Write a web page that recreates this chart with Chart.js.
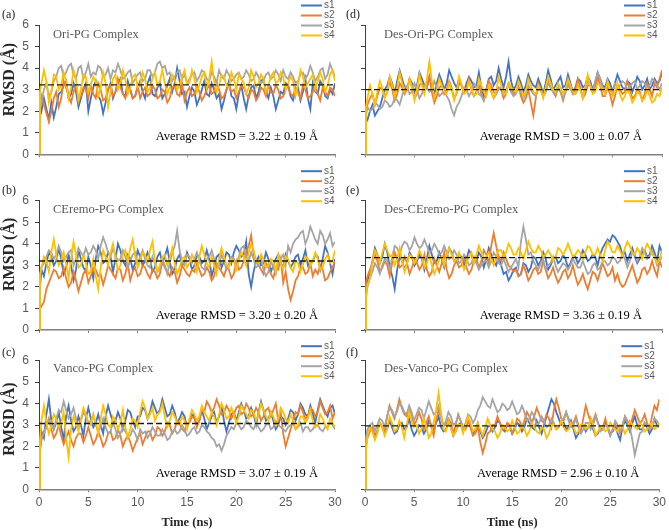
<!DOCTYPE html>
<html>
<head>
<meta charset="utf-8">
<script src="https://cdn.jsdelivr.net/npm/chart.js@4.4.1/dist/chart.umd.min.js"></script>
<style>
  body { margin: 0; background: #fff; width: 669px; height: 530px; position: relative; overflow: hidden; }
  canvas { position: absolute; }
</style>
</head>
<body>
<script>
// time axis (ns)
const times = [0, 0.1,
  0.25, 0.5, 0.75, 1, 1.25, 1.5, 1.75, 2, 2.25, 2.5, 2.75, 3, 3.25, 3.5, 3.75, 4, 4.25, 4.5, 4.75, 5,
  5.25, 5.5, 5.75, 6, 6.25, 6.5, 6.75, 7, 7.25, 7.5, 7.75, 8, 8.25, 8.5, 8.75, 9, 9.25, 9.5, 9.75, 10,
  10.25, 10.5, 10.75, 11, 11.25, 11.5, 11.75, 12, 12.25, 12.5, 12.75, 13, 13.25, 13.5, 13.75, 14, 14.25, 14.5, 14.75, 15,
  15.25, 15.5, 15.75, 16, 16.25, 16.5, 16.75, 17, 17.25, 17.5, 17.75, 18, 18.25, 18.5, 18.75, 19, 19.25, 19.5, 19.75, 20,
  20.25, 20.5, 20.75, 21, 21.25, 21.5, 21.75, 22, 22.25, 22.5, 22.75, 23, 23.25, 23.5, 23.75, 24, 24.25, 24.5, 24.75, 25,
  25.25, 25.5, 25.75, 26, 26.25, 26.5, 26.75, 27, 27.25, 27.5, 27.75, 28, 28.25, 28.5, 28.75, 29, 29.25, 29.5, 29.75, 30];

const seriesNames = ['s1', 's2', 's3', 's4'];
const xTicks = [0, 5, 10, 15, 20, 25, 30];
const yTicks = [0, 1, 2, 3, 4, 5, 6];

const panelLabels = ['(a)', '(b)', '(c)', '(d)', '(e)', '(f)'];
const panelTitles = ['Ori-PG Complex', 'CEremo-PG Complex', 'Vanco-PG Complex',
  'Des-Ori-PG Complex', 'Des-CEremo-PG Complex', 'Des-Vanco-PG Complex'];
const avgValues = [3.22, 3.20, 3.07, 3.00, 3.36, 2.96];
const avgTexts = ['Average RMSD = 3.22 ± 0.19 Å', 'Average RMSD = 3.20 ± 0.20 Å',
  'Average RMSD = 3.07 ± 0.19 Å', 'Average RMSD = 3.00 ± 0.07 Å',
  'Average RMSD = 3.36 ± 0.19 Å', 'Average RMSD = 2.96 ± 0.10 Å'];

// (a) Ori-PG
const oriS1 = [0, 2.3,
  2.0, 2.6, 2.1, 1.6, 2.4, 1.7, 2.2, 2.8, 2.9, 3.2, 3.4, 2.6, 2.8, 3.3, 2.9, 2.2, 2.6, 3.0, 3.3, 2.0,
  2.6, 3.1, 3.4, 2.7, 2.5, 1.9, 2.4, 3.0, 3.3, 2.6, 2.9, 3.3, 3.5, 2.8, 2.7, 3.4, 3.0, 2.6, 2.7, 3.1,
  3.4, 2.9, 2.6, 3.3, 3.6, 2.8, 2.7, 3.1, 3.3, 2.6, 2.8, 3.2, 3.5, 2.9, 3.3, 4.0, 3.4, 2.8, 2.9, 2.2,
  2.7, 3.1, 2.9, 2.3, 2.6, 3.0, 3.4, 2.8, 2.7, 3.3, 3.0, 2.6, 2.8, 2.1, 2.5, 3.0, 3.4, 2.7, 2.6, 2.1,
  2.8, 3.2, 2.6, 2.1, 2.7, 3.1, 3.2, 2.6, 2.9, 3.4, 3.5, 2.9, 2.6, 3.1, 2.7, 2.1, 2.5, 2.9, 2.8, 3.3,
  3.2, 2.7, 2.5, 3.0, 3.1, 2.5, 2.9, 3.5, 2.6, 2.1, 3.3, 2.9, 2.8, 3.4, 3.2, 2.7, 2.6, 3.0, 2.8, 3.3];
const oriS2 = [0, 2.0,
  2.7, 2.3, 1.9, 1.5, 2.0, 2.6, 2.9, 2.2, 2.6, 3.4, 3.1, 2.7, 2.4, 2.9, 3.2, 2.5, 2.7, 3.1, 3.0, 2.6,
  3.2, 2.8, 2.6, 3.3, 3.0, 2.5, 2.6, 3.0, 3.2, 2.7, 2.9, 3.5, 3.1, 2.8, 2.6, 3.1, 3.0, 2.6, 2.7, 3.2,
  2.6, 2.9, 3.1, 2.7, 2.8, 3.2, 3.0, 2.6, 2.7, 3.0, 2.9, 2.4, 2.6, 3.1, 3.2, 2.8, 2.7, 3.3, 2.5, 2.9,
  3.1, 2.7, 2.8, 3.2, 2.9, 2.5, 2.7, 3.0, 3.2, 2.8, 2.9, 3.3, 3.0, 2.6, 2.7, 3.0, 3.2, 2.9, 3.0, 2.6,
  2.9, 3.2, 3.1, 2.8, 2.6, 3.0, 2.9, 2.5, 2.7, 3.1, 3.0, 2.7, 3.2, 2.9, 2.8, 3.2, 3.0, 2.6, 2.7, 3.0,
  3.2, 2.8, 2.7, 3.1, 2.9, 2.6, 3.2, 3.0, 2.6, 2.7, 2.9, 3.2, 2.8, 2.5, 3.1, 2.9, 2.7, 3.1, 3.0, 2.7];
const oriS3 = [0, 2.6,
  2.4, 3.0, 3.3, 2.7, 2.9, 3.4, 3.6, 4.0, 4.1, 3.6, 3.8, 4.1, 4.2, 3.7, 3.5, 4.0, 4.1, 3.5, 3.8, 4.2,
  3.6, 3.8, 3.7, 4.1, 4.0, 3.6, 3.7, 4.0, 3.5, 3.9, 3.8, 4.2, 3.9, 3.5, 3.6, 3.8, 3.9, 3.3, 3.5, 3.7,
  3.8, 3.4, 3.5, 3.9, 3.9, 3.6, 3.8, 4.2, 4.3, 4.0, 4.1, 3.7, 3.8, 3.4, 3.6, 3.8, 3.9, 3.5, 3.7, 3.3,
  3.5, 3.7, 3.8, 3.4, 3.6, 3.9, 3.8, 3.5, 3.4, 3.8, 3.6, 3.3, 3.9, 3.6, 3.5, 3.9, 3.7, 3.4, 3.5, 3.7,
  3.8, 3.5, 3.6, 3.9, 3.7, 3.4, 3.5, 3.8, 3.6, 3.3, 3.4, 3.7, 3.8, 3.5, 3.6, 3.9, 3.7, 3.4, 3.9, 3.6,
  3.5, 3.8, 3.6, 3.3, 3.4, 3.7, 3.8, 3.5, 3.7, 4.1, 3.8, 3.4, 3.6, 3.9, 4.0, 3.5, 3.7, 4.2, 3.9, 3.6];
const oriS4 = [0, 2.9,
  3.3, 3.9, 3.4, 2.4, 2.9, 3.7, 3.6, 3.0, 3.2, 3.8, 3.4, 2.6, 3.1, 3.9, 3.5, 2.5, 3.0, 3.7, 3.6, 2.9,
  3.2, 3.6, 3.4, 2.7, 3.1, 3.8, 3.3, 2.2, 2.9, 3.5, 3.7, 3.0, 3.3, 3.9, 3.5, 2.8, 3.1, 3.6, 3.7, 3.1,
  3.2, 3.8, 3.5, 2.9, 3.1, 3.5, 3.8, 3.2, 3.4, 3.9, 3.3, 2.8, 3.1, 3.7, 3.5, 3.0, 3.2, 3.6, 3.9, 3.3,
  3.3, 3.9, 3.5, 2.9, 3.2, 3.6, 3.8, 3.1, 3.5, 4.3, 3.4, 2.9, 3.2, 3.7, 3.6, 3.2, 3.1, 3.8, 3.5, 3.0,
  3.7, 3.5, 3.3, 2.8, 3.1, 3.9, 3.6, 3.1, 3.3, 3.7, 3.5, 2.9, 3.2, 3.6, 3.8, 3.3, 3.4, 3.8, 3.6, 3.0,
  3.3, 3.6, 3.4, 2.7, 3.2, 3.9, 3.6, 3.1, 3.3, 3.5, 3.7, 3.0, 3.4, 3.8, 3.5, 2.9, 3.2, 3.7, 3.9, 3.4];

// (b) CEremo-PG
const cereS1 = [0, 2.0,
  2.8, 2.5, 3.1, 3.6, 3.4, 3.0, 3.2, 3.8, 3.3, 2.6, 2.9, 3.5, 3.0, 2.3, 2.8, 3.7, 3.3, 2.9, 2.7, 3.4,
  3.0, 2.4, 3.3, 3.9, 3.6, 3.1, 3.2, 3.6, 3.4, 2.7, 3.3, 4.0, 3.7, 3.2, 3.0, 3.5, 3.3, 2.8, 3.1, 3.7,
  3.4, 3.0, 3.2, 3.6, 3.3, 2.7, 2.9, 3.4, 3.6, 3.1, 3.4, 3.8, 3.2, 2.6, 2.8, 3.3, 3.5, 3.0, 3.1, 3.6,
  3.3, 2.8, 3.0, 3.5, 3.4, 3.1, 3.2, 3.7, 3.3, 2.5, 2.9, 3.4, 3.5, 2.9, 3.2, 3.6, 3.5, 3.1, 3.6, 3.9,
  3.7, 3.4, 3.5, 4.1, 2.6, 2.0, 2.7, 3.2, 3.4, 3.0, 3.1, 3.6, 3.3, 2.7, 3.0, 3.3, 3.5, 3.1, 2.9, 3.5,
  3.2, 2.9, 3.1, 3.4, 3.5, 3.0, 3.3, 3.7, 3.0, 3.2, 3.2, 3.5, 3.4, 2.8, 3.3, 3.9, 3.6, 3.1, 2.6, 3.3];
const cereS2 = [0, 1.0,
  1.1, 1.3, 1.9, 2.2, 2.5, 2.8, 2.7, 2.4, 2.5, 2.9, 2.4, 2.0, 2.2, 2.7, 2.3, 1.8, 2.2, 2.6, 2.8, 2.2,
  2.5, 2.9, 2.8, 2.5, 2.6, 2.1, 2.5, 3.0, 2.8, 2.6, 2.4, 2.9, 2.8, 2.3, 2.6, 3.1, 2.3, 2.7, 2.9, 2.5,
  2.6, 3.0, 2.9, 2.6, 2.4, 2.8, 2.7, 2.4, 2.6, 3.2, 2.9, 2.7, 2.5, 2.9, 2.7, 2.2, 2.5, 3.0, 2.8, 2.6,
  2.5, 2.8, 2.7, 3.1, 2.8, 2.5, 2.6, 2.9, 2.7, 2.3, 2.5, 3.0, 2.9, 2.7, 2.5, 2.9, 2.8, 2.4, 2.6, 3.2,
  2.8, 2.9, 3.2, 3.6, 3.9, 4.4, 3.5, 3.2, 3.0, 2.8, 2.6, 3.1, 2.9, 2.6, 2.4, 2.9, 2.8, 3.3, 2.2, 2.7,
  1.9, 1.4, 1.8, 2.3, 2.5, 2.9, 2.9, 2.6, 2.7, 3.1, 2.5, 2.8, 2.6, 3.0, 2.8, 2.3, 2.4, 2.7, 2.9, 3.2];
const cereS3 = [0, 2.4,
  2.9, 3.1, 3.4, 3.7, 3.6, 3.3, 3.5, 3.9, 3.6, 3.2, 3.4, 3.6, 3.7, 3.0, 3.3, 3.8, 3.6, 3.4, 3.8, 3.5,
  3.6, 3.9, 3.7, 3.3, 3.9, 4.3, 4.0, 3.6, 3.4, 3.8, 3.5, 3.2, 3.3, 3.7, 3.4, 2.9, 3.2, 3.5, 3.6, 3.1,
  3.4, 3.7, 3.3, 3.0, 2.9, 3.4, 3.1, 2.7, 2.8, 3.3, 3.0, 2.6, 3.1, 3.6, 3.9, 4.6, 3.7, 3.2, 3.0, 3.5,
  3.4, 3.1, 3.3, 3.6, 3.2, 2.9, 2.8, 3.3, 3.4, 3.7, 3.3, 3.1, 3.0, 3.5, 3.2, 2.8, 3.1, 3.4, 3.3, 3.0,
  3.4, 3.8, 3.9, 3.3, 3.2, 3.6, 3.3, 2.9, 3.0, 3.4, 2.8, 2.5, 2.7, 3.2, 2.9, 2.6, 3.1, 3.3, 3.5, 3.0,
  3.9, 3.6, 4.0, 4.2, 4.3, 4.5, 4.6, 4.0, 4.3, 4.8, 4.5, 4.2, 4.0, 4.6, 4.4, 4.0, 4.2, 4.5, 3.9, 4.1];
const cereS4 = [0, 2.6,
  2.9, 3.4, 3.2, 2.7, 3.6, 4.2, 3.5, 3.0, 3.2, 3.6, 3.1, 2.4, 3.3, 4.1, 3.5, 2.9, 3.0, 3.5, 3.1, 2.6,
  2.7, 3.3, 2.5, 1.9, 2.9, 3.7, 3.4, 3.0, 3.6, 4.0, 3.3, 2.8, 3.0, 3.5, 3.7, 3.2, 3.8, 4.2, 3.4, 2.9,
  3.2, 3.6, 3.5, 3.1, 3.7, 4.1, 3.2, 2.7, 3.0, 3.4, 3.5, 3.0, 3.3, 3.8, 3.1, 2.6, 2.9, 3.3, 3.4, 2.9,
  3.1, 3.5, 3.2, 2.7, 3.4, 3.9, 3.5, 3.1, 2.9, 3.4, 3.0, 2.6, 3.3, 3.8, 3.4, 3.0, 2.9, 3.3, 3.2, 2.8,
  3.2, 3.6, 3.4, 3.0, 3.6, 4.0, 3.7, 3.2, 3.1, 3.5, 3.3, 2.9, 3.0, 3.3, 3.2, 2.7, 3.5, 3.1, 2.8, 3.4,
  3.3, 2.9, 2.7, 3.2, 3.1, 2.7, 3.0, 3.4, 3.3, 3.0, 3.2, 3.6, 3.3, 2.8, 2.9, 3.3, 3.5, 3.1, 3.2, 3.7];

// (c) Vanco-PG
const vancoS1 = [0, 1.9,
  2.7, 2.4, 3.5, 4.2, 3.2, 2.8, 3.1, 3.6, 2.9, 2.3, 3.4, 3.9, 3.2, 2.7, 2.9, 3.4, 3.0, 2.5, 3.3, 3.8,
  3.3, 2.9, 3.1, 3.5, 3.0, 2.6, 3.4, 3.9, 3.5, 3.1, 3.2, 3.6, 3.3, 2.8, 3.2, 3.7, 3.6, 3.2, 2.9, 3.4,
  3.4, 3.8, 3.7, 3.3, 3.6, 4.1, 3.8, 3.5, 3.7, 4.2, 3.8, 3.4, 3.5, 3.9, 3.6, 3.1, 3.3, 3.6, 3.4, 2.9,
  3.2, 3.5, 3.4, 3.0, 3.2, 3.7, 3.3, 2.8, 3.1, 3.4, 3.6, 3.1, 3.4, 3.9, 3.2, 2.7, 3.1, 3.5, 3.6, 3.2,
  3.6, 4.0, 3.7, 3.3, 3.4, 3.8, 3.5, 3.0, 3.6, 4.1, 3.7, 3.2, 3.3, 3.6, 3.2, 2.8, 3.0, 3.4, 3.3, 3.0,
  3.3, 3.7, 3.6, 3.2, 3.5, 4.0, 3.8, 3.5, 3.4, 3.9, 3.5, 3.1, 3.7, 4.2, 3.9, 3.6, 3.4, 3.8, 3.9, 3.5];
const vancoS2 = [0, 1.8,
  2.3, 2.7, 2.9, 3.3, 2.8, 2.4, 2.6, 3.0, 2.5, 2.1, 2.4, 2.7, 2.3, 2.0, 2.4, 2.6, 2.6, 2.2, 2.5, 2.9,
  2.5, 2.1, 2.3, 2.7, 2.4, 2.0, 2.2, 2.6, 2.7, 2.3, 2.4, 2.8, 2.5, 2.0, 2.3, 2.5, 2.2, 1.8, 2.1, 2.4,
  2.6, 2.1, 2.4, 2.7, 2.7, 2.3, 2.5, 2.9, 2.8, 2.5, 2.7, 3.1, 3.0, 2.6, 2.8, 3.2, 3.1, 2.8, 2.7, 3.0,
  3.1, 3.4, 3.3, 2.9, 3.2, 3.7, 3.6, 4.1, 3.9, 3.6, 3.8, 4.2, 3.9, 3.5, 3.6, 3.9, 3.7, 3.3, 3.5, 3.8,
  3.9, 3.5, 3.6, 4.0, 3.8, 3.4, 3.5, 3.8, 3.6, 3.2, 3.4, 3.7, 3.8, 3.4, 3.7, 4.0, 3.2, 3.6, 2.6, 2.0,
  2.4, 2.8, 3.2, 3.6, 3.5, 3.9, 3.6, 3.3, 3.4, 3.8, 3.7, 3.4, 3.6, 4.1, 3.8, 3.5, 3.6, 3.9, 3.3, 3.6];
const vancoS3 = [0, 2.1,
  2.4, 2.6, 2.9, 3.2, 3.0, 2.8, 3.3, 3.7, 3.6, 4.1, 3.7, 3.3, 3.5, 3.8, 3.3, 2.9, 3.2, 3.6, 3.4, 3.1,
  3.2, 3.5, 3.0, 2.7, 2.9, 3.3, 2.9, 2.6, 2.7, 3.1, 2.8, 2.4, 2.6, 2.9, 2.7, 2.5, 2.5, 2.8, 2.6, 2.3,
  2.8, 2.6, 2.7, 2.4, 2.6, 2.9, 2.7, 2.5, 2.5, 2.8, 2.6, 2.3, 2.4, 2.7, 2.8, 2.6, 2.7, 3.0, 2.8, 2.5,
  2.6, 2.8, 2.9, 2.6, 2.7, 3.0, 2.9, 2.7, 2.6, 2.4, 2.3, 2.0, 2.1, 1.8, 2.1, 2.5, 2.7, 2.9, 2.8, 3.1,
  3.0, 2.8, 2.9, 3.2, 3.1, 2.9, 2.8, 3.1, 2.9, 2.7, 2.8, 3.0, 3.1, 2.8, 2.9, 3.2, 3.0, 2.9, 2.8, 2.7,
  2.9, 3.0, 3.1, 2.8, 2.9, 3.1, 2.7, 2.9, 2.9, 2.7, 2.8, 3.0, 3.0, 2.8, 2.7, 2.9, 2.9, 3.1, 3.0, 2.8];
const vancoS4 = [0, 2.3,
  3.2, 3.9, 3.1, 2.6, 3.0, 3.5, 3.3, 2.9, 3.1, 3.6, 2.4, 1.5, 2.8, 3.4, 3.1, 2.7, 3.3, 3.8, 3.5, 3.1,
  3.0, 3.5, 3.1, 2.6, 3.3, 3.9, 3.5, 3.0, 2.9, 3.4, 3.2, 2.8, 3.1, 3.7, 2.9, 2.4, 2.8, 3.3, 3.2, 2.9,
  3.6, 4.1, 3.8, 3.3, 3.5, 3.8, 3.2, 3.5, 3.6, 4.0, 3.4, 2.9, 3.2, 3.6, 3.4, 3.1, 3.0, 3.4, 3.2, 2.8,
  3.3, 3.7, 3.5, 3.2, 3.4, 3.9, 3.6, 3.4, 3.2, 3.6, 3.4, 3.0, 3.5, 4.0, 3.7, 3.3, 3.4, 3.8, 3.5, 3.1,
  3.4, 3.9, 3.7, 3.5, 3.3, 3.7, 3.6, 3.2, 3.5, 4.0, 3.7, 3.4, 3.2, 3.6, 3.4, 3.0, 3.3, 3.8, 3.6, 3.3,
  3.1, 3.5, 3.2, 2.8, 3.0, 3.4, 3.4, 3.1, 3.3, 3.7, 3.2, 2.9, 3.0, 3.5, 3.3, 3.0, 2.8, 3.3, 3.1, 2.9];

// (d) Des-Ori-PG
const desOriS1 = [0, 1.7,
  1.6, 2.0, 2.3, 1.8, 2.0, 2.2, 2.6, 3.0, 3.2, 3.6, 3.3, 2.8, 3.4, 3.9, 3.5, 3.1, 3.0, 3.5, 3.3, 2.9,
  3.2, 3.8, 3.5, 3.2, 3.1, 3.6, 3.2, 2.8, 3.3, 3.7, 3.4, 3.0, 3.3, 3.9, 3.6, 3.3, 3.1, 3.5, 3.2, 2.9,
  3.3, 3.6, 3.4, 3.1, 3.2, 3.8, 3.1, 2.7, 3.0, 3.5, 3.6, 3.2, 3.4, 4.0, 3.5, 3.1, 3.6, 4.3, 3.4, 3.0,
  3.2, 3.6, 3.3, 2.9, 3.2, 3.7, 3.4, 3.2, 3.1, 3.5, 3.2, 2.8, 3.3, 3.9, 3.5, 3.0, 3.2, 3.4, 3.6, 3.1,
  3.2, 3.7, 3.3, 2.9, 3.1, 3.5, 3.4, 3.1, 3.2, 3.6, 3.4, 3.0, 3.3, 3.8, 3.5, 3.2, 3.1, 3.5, 3.3, 2.9,
  3.3, 3.7, 3.4, 3.1, 3.0, 3.4, 3.3, 2.9, 3.2, 3.6, 3.4, 3.0, 3.2, 3.5, 3.0, 3.2, 3.5, 3.3, 3.4, 3.8];
const desOriS2 = [0, 2.0,
  2.3, 2.6, 2.8, 2.3, 2.7, 3.1, 3.0, 2.7, 2.9, 3.4, 3.0, 2.5, 2.8, 3.3, 3.1, 2.8, 3.0, 3.5, 3.1, 2.6,
  2.8, 3.2, 3.3, 2.9, 3.1, 3.6, 2.9, 2.4, 2.7, 3.1, 3.2, 2.8, 3.0, 3.4, 3.1, 2.6, 2.8, 3.3, 3.2, 2.9,
  3.1, 3.5, 3.0, 2.7, 2.9, 3.2, 2.8, 2.5, 3.0, 3.4, 3.2, 2.9, 2.8, 3.1, 3.0, 2.6, 2.8, 3.3, 3.1, 2.8,
  2.9, 3.2, 2.7, 2.4, 2.6, 3.0, 2.4, 1.8, 2.6, 3.3, 3.0, 2.7, 2.9, 3.4, 3.1, 2.9, 2.7, 3.1, 2.9, 2.5,
  2.9, 3.3, 3.1, 2.8, 3.0, 3.5, 3.1, 2.6, 2.8, 3.2, 3.2, 2.9, 3.0, 3.6, 3.2, 2.7, 2.7, 3.1, 2.8, 2.3,
  2.7, 3.2, 3.0, 2.8, 2.9, 3.4, 3.0, 2.6, 2.7, 3.0, 2.9, 2.5, 2.8, 3.3, 3.0, 2.7, 3.3, 3.1, 3.5, 3.9];
const desOriS3 = [0, 1.8,
  2.2, 2.0, 2.1, 2.4, 2.3, 2.1, 2.2, 2.5, 2.4, 2.2, 2.3, 2.6, 2.5, 2.3, 2.7, 3.1, 3.2, 2.8, 2.9, 3.3,
  3.0, 2.6, 2.8, 3.2, 3.1, 2.9, 3.0, 3.4, 3.1, 2.7, 2.8, 3.0, 2.7, 2.5, 2.1, 1.8, 2.2, 2.4, 2.7, 3.1,
  3.0, 2.7, 2.9, 3.3, 3.1, 2.8, 2.7, 2.5, 2.8, 3.2, 2.9, 2.6, 2.8, 3.0, 3.1, 2.8, 3.0, 3.3, 2.9, 2.7,
  2.8, 3.1, 2.9, 2.6, 2.8, 3.2, 3.0, 2.8, 2.7, 3.0, 3.0, 2.7, 2.9, 3.3, 3.1, 2.9, 2.8, 3.1, 2.9, 2.6,
  2.9, 3.2, 3.0, 2.8, 2.8, 3.0, 3.0, 2.7, 3.1, 3.4, 3.2, 2.9, 3.4, 3.8, 3.5, 3.1, 3.0, 3.3, 3.1, 2.8,
  3.3, 3.1, 3.2, 3.4, 3.3, 3.0, 3.1, 3.3, 3.4, 3.0, 3.2, 3.4, 3.3, 3.1, 3.2, 3.5, 3.4, 3.2, 3.0, 3.3];
const desOriS4 = [0, 2.2,
  2.6, 3.2, 2.8, 2.3, 2.9, 3.4, 3.1, 2.6, 2.9, 3.6, 3.2, 2.7, 3.1, 3.8, 3.3, 2.9, 3.0, 3.5, 3.1, 2.5,
  3.0, 3.7, 3.2, 2.8, 3.5, 4.3, 3.4, 2.6, 2.9, 3.5, 3.2, 2.9, 2.8, 3.3, 3.0, 2.5, 2.9, 3.6, 3.2, 2.8,
  2.9, 3.4, 3.1, 2.7, 2.8, 3.5, 3.2, 2.9, 2.7, 3.2, 3.0, 2.6, 2.9, 3.6, 3.2, 2.8, 2.8, 3.3, 3.1, 3.0,
  2.9, 3.4, 3.1, 2.7, 2.9, 3.5, 3.2, 2.9, 2.8, 3.2, 3.0, 2.6, 3.1, 3.6, 3.3, 3.0, 2.9, 3.3, 3.1, 2.8,
  3.0, 3.5, 3.2, 2.9, 2.8, 3.2, 3.0, 2.6, 3.1, 3.7, 3.2, 2.8, 2.9, 3.3, 3.2, 3.0, 2.8, 3.4, 3.0, 2.7,
  2.9, 3.3, 2.8, 2.5, 2.7, 3.0, 2.8, 2.4, 2.6, 2.9, 2.8, 2.5, 2.6, 3.0, 2.7, 2.4, 2.5, 2.8, 2.7, 3.1];

// (e) Des-CEremo-PG
const desCereS1 = [0, 1.9,
  2.3, 2.6, 3.2, 3.8, 3.5, 3.1, 3.4, 4.0, 3.6, 2.9, 2.5, 1.9, 2.8, 3.4, 3.2, 2.8, 3.1, 3.6, 3.4, 3.0,
  3.2, 3.5, 3.3, 2.8, 3.3, 3.9, 3.5, 3.1, 3.2, 3.6, 3.3, 2.9, 3.4, 3.8, 3.6, 3.2, 3.3, 3.5, 3.4, 3.0,
  3.3, 3.7, 3.5, 3.1, 3.2, 3.6, 3.4, 2.9, 3.3, 3.8, 3.5, 3.2, 3.0, 3.4, 3.0, 2.6, 2.7, 2.3, 2.5, 2.8,
  2.9, 2.5, 2.6, 3.1, 3.0, 2.7, 2.9, 3.4, 3.3, 3.0, 3.2, 3.6, 3.3, 2.8, 3.0, 3.3, 3.4, 3.1, 3.2, 3.5,
  3.3, 2.9, 3.1, 3.4, 3.4, 3.1, 3.3, 3.7, 3.5, 3.2, 3.3, 3.5, 3.4, 3.0, 3.5, 3.8, 4.0, 4.2, 4.1, 4.4,
  4.3, 4.1, 3.9, 3.5, 3.6, 3.2, 3.5, 3.8, 3.4, 3.1, 3.3, 3.6, 3.7, 3.4, 3.5, 3.9, 3.6, 3.2, 3.9, 3.6];
const desCereS2 = [0, 2.2,
  2.5, 2.8, 3.1, 3.5, 3.2, 2.7, 2.9, 3.2, 3.0, 2.5, 3.1, 3.6, 3.3, 2.9, 3.0, 3.4, 3.1, 2.6, 2.9, 3.3,
  3.1, 2.8, 3.0, 3.5, 2.8, 2.5, 2.7, 3.3, 3.0, 2.7, 3.1, 3.6, 2.8, 2.4, 2.6, 3.0, 3.2, 2.9, 3.0, 3.4,
  2.9, 2.6, 2.8, 3.2, 3.3, 2.9, 3.2, 3.7, 3.5, 3.1, 3.9, 4.5, 3.9, 3.3, 3.2, 3.6, 3.3, 3.0, 2.9, 2.7,
  2.8, 2.5, 2.6, 3.0, 2.7, 2.3, 2.5, 2.8, 2.9, 2.6, 2.7, 3.2, 2.8, 2.4, 2.6, 2.9, 2.5, 2.2, 2.4, 2.7,
  2.8, 2.4, 2.6, 3.0, 2.5, 2.1, 2.3, 2.6, 2.2, 1.9, 2.3, 2.7, 2.6, 2.3, 2.7, 3.1, 2.8, 2.5, 2.6, 2.9,
  2.3, 2.6, 2.2, 2.0, 2.1, 2.4, 2.7, 3.0, 2.6, 2.2, 2.4, 2.8, 2.9, 2.6, 2.8, 3.2, 2.8, 2.5, 3.2, 2.9];
const desCereS3 = [0, 1.5,
  2.0, 2.4, 2.7, 3.1, 2.9, 2.6, 3.0, 3.3, 3.2, 2.8, 3.4, 3.9, 3.8, 3.5, 3.9, 4.1, 4.0, 3.7, 3.9, 4.3,
  4.0, 3.8, 3.9, 4.2, 3.9, 3.6, 3.7, 4.0, 3.8, 3.5, 3.6, 3.9, 3.6, 3.3, 3.4, 3.7, 3.5, 3.1, 3.2, 3.5,
  3.3, 3.0, 3.1, 3.4, 3.1, 2.8, 3.0, 3.2, 3.2, 2.9, 3.2, 3.6, 3.4, 3.1, 3.0, 3.3, 3.0, 2.7, 2.9, 3.1,
  3.3, 2.9, 4.1, 4.8, 4.2, 3.5, 3.6, 3.2, 3.0, 2.8, 3.1, 3.3, 2.8, 3.0, 3.1, 3.4, 3.0, 2.7, 2.9, 3.1,
  3.0, 2.8, 3.0, 3.3, 3.1, 2.9, 2.9, 3.2, 2.9, 2.6, 2.7, 3.0, 3.1, 2.8, 2.9, 3.2, 3.2, 3.0, 3.1, 3.4,
  3.3, 3.1, 3.2, 3.5, 3.3, 2.9, 3.2, 3.6, 3.5, 3.2, 3.4, 3.8, 3.6, 3.3, 3.4, 3.7, 3.4, 3.0, 3.2, 3.4];
const desCereS4 = [0, 1.6,
  2.1, 2.4, 3.1, 3.7, 3.5, 3.1, 3.6, 4.0, 3.7, 3.4, 3.5, 3.0, 3.3, 3.8, 3.2, 2.7, 3.1, 3.5, 3.4, 3.1,
  3.3, 3.7, 3.4, 2.9, 3.1, 3.5, 3.0, 2.6, 2.9, 3.3, 3.4, 3.0, 3.5, 3.8, 3.5, 3.2, 3.3, 3.6, 3.2, 2.8,
  3.1, 3.4, 3.6, 3.1, 3.5, 3.9, 3.6, 3.3, 3.4, 3.6, 3.3, 3.0, 3.4, 3.7, 3.7, 3.4, 3.6, 4.0, 3.8, 3.5,
  3.5, 3.8, 3.6, 3.3, 3.7, 4.1, 3.8, 3.6, 3.6, 3.9, 3.7, 3.4, 3.5, 3.7, 3.5, 3.2, 3.4, 3.8, 3.7, 3.5,
  3.7, 4.0, 3.7, 3.4, 3.5, 3.7, 3.6, 3.3, 3.6, 3.9, 3.8, 3.5, 3.5, 3.8, 3.5, 3.2, 3.7, 4.1, 3.9, 3.6,
  3.6, 3.9, 3.7, 3.4, 3.8, 4.1, 3.9, 3.6, 3.5, 3.8, 3.6, 3.3, 3.7, 4.0, 3.8, 3.5, 3.4, 3.1, 3.3, 3.7];

// (f) Des-Vanco-PG
const desVancoS1 = [0, 2.1,
  2.5, 2.9, 2.8, 2.5, 2.7, 3.1, 2.9, 2.7, 2.8, 3.2, 2.9, 2.6, 2.7, 3.0, 3.1, 2.8, 2.9, 3.3, 2.8, 2.5,
  2.7, 3.0, 2.9, 2.6, 2.8, 3.2, 3.0, 2.8, 3.1, 3.4, 2.9, 2.7, 2.8, 3.1, 2.9, 2.5, 2.7, 3.0, 3.1, 2.8,
  3.0, 3.3, 2.9, 2.6, 2.8, 3.1, 2.7, 2.4, 2.6, 2.9, 3.0, 2.7, 2.9, 3.2, 3.1, 2.8, 2.7, 3.0, 2.9, 2.6,
  2.8, 3.1, 3.0, 2.7, 2.9, 3.3, 3.1, 2.9, 2.8, 3.2, 2.9, 2.6, 3.0, 3.4, 3.8, 4.2, 4.0, 3.6, 3.3, 3.0,
  3.1, 2.8, 2.9, 3.2, 2.8, 2.4, 2.6, 3.0, 3.0, 2.7, 2.9, 3.3, 2.8, 2.5, 2.6, 2.9, 2.8, 3.1, 2.9, 2.6,
  2.7, 3.0, 2.6, 2.3, 2.9, 3.2, 3.0, 2.7, 3.1, 3.4, 3.0, 2.8, 2.8, 3.1, 2.9, 2.6, 2.8, 3.3, 3.0, 2.9];
const desVancoS2 = [0, 2.0,
  2.4, 2.7, 2.9, 2.4, 2.7, 3.1, 2.9, 2.6, 3.4, 3.9, 3.6, 3.3, 3.7, 4.2, 3.8, 3.5, 3.4, 3.8, 3.5, 3.0,
  3.2, 3.6, 3.3, 2.8, 3.1, 3.4, 2.9, 2.5, 3.2, 3.7, 3.4, 3.0, 3.0, 3.3, 3.1, 2.6, 3.0, 3.5, 3.2, 2.9,
  2.8, 3.2, 2.9, 2.5, 2.6, 2.9, 2.2, 1.7, 2.1, 2.6, 2.7, 3.0, 3.0, 3.4, 3.1, 2.8, 2.8, 3.1, 3.0, 2.6,
  2.9, 3.3, 3.2, 2.9, 3.2, 3.6, 3.4, 3.1, 3.4, 3.8, 3.5, 3.2, 3.1, 3.5, 3.3, 2.9, 3.7, 4.2, 3.8, 3.3,
  3.2, 3.6, 3.3, 3.0, 3.1, 3.4, 3.0, 2.7, 3.3, 3.9, 3.5, 3.1, 3.2, 3.5, 3.1, 2.8, 2.9, 3.3, 2.8, 2.5,
  2.8, 3.0, 2.9, 2.6, 3.0, 3.4, 3.2, 2.9, 3.3, 3.7, 3.4, 3.1, 3.2, 3.5, 3.1, 2.8, 3.4, 3.9, 3.7, 4.2];
const desVancoS3 = [0, 2.4,
  2.8, 3.0, 3.1, 2.7, 3.0, 3.3, 3.2, 2.9, 3.4, 3.8, 3.7, 3.4, 3.6, 4.0, 3.9, 3.6, 3.5, 3.9, 3.6, 3.2,
  3.5, 3.8, 3.7, 3.3, 3.7, 4.1, 3.8, 3.5, 3.6, 3.9, 3.3, 2.9, 3.2, 3.6, 3.4, 3.0, 3.1, 3.4, 3.2, 2.8,
  3.1, 3.5, 3.4, 3.1, 3.3, 3.7, 3.9, 4.3, 4.1, 3.9, 3.8, 4.2, 3.9, 3.6, 3.7, 4.0, 3.9, 3.7, 3.8, 4.1,
  3.8, 3.5, 3.6, 3.9, 3.6, 3.2, 3.3, 3.6, 3.4, 3.0, 3.1, 3.4, 3.2, 2.9, 3.0, 3.3, 3.1, 2.8, 2.9, 3.2,
  3.3, 3.6, 3.2, 2.9, 3.0, 3.3, 2.9, 2.6, 2.8, 3.1, 3.1, 2.8, 3.0, 3.4, 3.1, 2.7, 2.8, 3.0, 2.9, 2.5,
  2.8, 3.2, 3.0, 2.7, 3.0, 3.4, 3.1, 2.9, 2.3, 1.6, 2.1, 2.6, 2.7, 3.1, 3.0, 2.8, 2.9, 3.3, 3.2, 3.0];
const desVancoS4 = [0, 1.8,
  2.5, 2.9, 2.7, 2.3, 2.6, 3.1, 2.9, 2.5, 2.8, 3.4, 3.1, 2.7, 2.8, 3.2, 2.9, 2.4, 3.0, 3.6, 3.2, 2.9,
  3.0, 2.6, 2.8, 3.3, 2.9, 2.4, 2.6, 3.1, 3.7, 4.5, 3.6, 2.8, 2.7, 3.2, 2.9, 2.5, 2.7, 3.0, 3.0, 2.6,
  3.0, 3.4, 3.1, 2.7, 2.8, 3.1, 2.8, 2.5, 2.9, 3.3, 3.0, 2.8, 2.7, 2.4, 2.6, 3.0, 2.9, 2.7, 2.8, 3.2,
  2.9, 2.6, 2.7, 3.0, 2.8, 2.5, 2.7, 3.1, 2.9, 2.7, 2.6, 2.9, 2.8, 2.4, 2.6, 3.0, 3.0, 2.8, 2.9, 3.2,
  2.9, 2.7, 2.8, 3.1, 2.9, 2.6, 2.7, 3.0, 3.0, 2.8, 2.9, 3.3, 3.0, 2.5, 2.7, 2.9, 2.9, 2.7, 2.8, 3.1,
  2.9, 2.8, 2.7, 3.0, 2.9, 2.6, 2.8, 3.2, 3.0, 2.9, 2.8, 3.1, 3.0, 2.7, 2.8, 3.0, 3.1, 2.8, 2.9, 3.1];

const panelSeries = [
  [oriS1, oriS2, oriS3, oriS4],
  [cereS1, cereS2, cereS3, cereS4],
  [vancoS1, vancoS2, vancoS3, vancoS4],
  [desOriS1, desOriS2, desOriS3, desOriS4],
  [desCereS1, desCereS2, desCereS3, desCereS4],
  [desVancoS1, desVancoS2, desVancoS3, desVancoS4]
];

const colors = ['#4472C4', '#ED7D31', '#A5A5A5', '#FFC000'];

// page geometry: columns and rows (canvases overlap, they are transparent)
const cols = [
  { x: 0, w: 350, yAxisW: 39, padRight: 15, labelDx: -37, titleDx: 14, avgDx: 17, legendDx: 34 },
  { x: 340, w: 329, yAxisW: 25, padRight: 7, labelDx: -19, titleDx: 19, avgDx: 20, legendDx: 38 }
];
const rows = [
  { y: 0, h: 175, padTop: 25, xAxisH: 20.7, labelDy: -10, titleDy: 10, avgDy: 18, legendDy: -19.5, yTitleDy: -10 },
  { y: 160, h: 190, padTop: 40.7, xAxisH: 20, labelDy: -10, titleDy: 9.5, avgDy: 14.3, legendDy: -29.5, yTitleDy: -11 },
  { y: 335, h: 195, padTop: 25.7, xAxisH: 40.7, labelDy: -8, titleDy: 8.5, avgDy: 16, legendDy: -14.5, yTitleDy: -6 }
];

Chart.defaults.font.family = '"Liberation Sans", Arial, sans-serif';

const panelDeco = {
  id: 'panelDeco',
  afterDatasetsDraw(chart, args, o) {
    const { ctx, chartArea: a } = chart;
    ctx.save();
    ctx.textBaseline = 'middle';
    ctx.textAlign = 'left';
    ctx.font = '12px "Liberation Serif", serif';
    ctx.fillStyle = '#262626';
    ctx.fillText(o.label, a.left + o.labelDx, a.top + o.labelDy);
    ctx.font = '12.5px "Liberation Serif", serif';
    ctx.fillStyle = '#595959';
    ctx.fillText(o.title, a.left + o.titleDx, a.top + o.titleDy);
    ctx.fillStyle = '#000';
    ctx.textAlign = 'right';
    ctx.fillText(o.avgText, a.right - o.avgDx, a.bottom - o.avgDy);
    // rotated y title, a little above centre like the original
    if (o.yTitle) {
      ctx.save();
      ctx.translate(a.left - 29, (a.top + a.bottom) / 2 + o.yTitleDy);
      ctx.rotate(-Math.PI / 2);
      ctx.textAlign = 'center';
      ctx.font = 'bold 16px "Liberation Serif", serif';
      ctx.fillStyle = '#262626';
      ctx.fillText(o.yTitle, 0, 0);
      ctx.restore();
    }
    // legend sits over the top right corner
    ctx.font = '10px "Liberation Sans", sans-serif';
    ctx.textAlign = 'left';
    for (let i = 0; i < 4; i++) {
      const ds = chart.data.datasets[i];
      const y = a.top + o.legendDy + i * 10;
      const x0 = a.right - o.legendDx;
      ctx.strokeStyle = ds.borderColor;
      ctx.lineWidth = 2;
      ctx.beginPath();
      ctx.moveTo(x0, y);
      ctx.lineTo(x0 + 21, y);
      ctx.stroke();
      ctx.fillStyle = '#595959';
      ctx.fillText(ds.label, x0 + 23, y);
    }
    ctx.restore();
  }
};

function makePanel(idx) {
  const col = cols[Math.floor(idx / 3)];
  const row = rows[idx % 3];
  const isLeft = idx < 3;
  const isBottom = idx % 3 === 2;

  const canvas = document.createElement('canvas');
  canvas.width = col.w;
  canvas.height = row.h;
  canvas.style.left = col.x + 'px';
  canvas.style.top = row.y + 'px';
  document.body.appendChild(canvas);

  const datasets = panelSeries[idx].map((vals, k) => ({
    label: seriesNames[k],
    data: times.map((t, i) => ({ x: t, y: vals[i] })),
    borderColor: colors[k],
    borderWidth: 1.8,
    pointRadius: 0,
    order: 4 - k
  }));
  datasets.push({
    label: 'average',
    data: [{ x: xTicks[0], y: avgValues[idx] }, { x: xTicks[xTicks.length - 1], y: avgValues[idx] }],
    borderColor: '#1a1a1a',
    borderWidth: 1.4,
    borderDash: [6, 3],
    pointRadius: 0,
    order: 0
  });

  new Chart(canvas, {
    type: 'line',
    data: { datasets },
    options: {
      responsive: false,
      animation: false,
      devicePixelRatio: 1,
      layout: { padding: { top: row.padTop, right: col.padRight, bottom: 0, left: 0 } },
      plugins: {
        legend: { display: false },
        tooltip: { enabled: false },
        panelDeco: {
          label: panelLabels[idx], title: panelTitles[idx], avgText: avgTexts[idx],
          yTitle: isLeft ? 'RMSD (Å)' : '', yTitleDy: row.yTitleDy,
          labelDx: col.labelDx, labelDy: row.labelDy,
          titleDx: col.titleDx, titleDy: row.titleDy,
          avgDx: col.avgDx, avgDy: row.avgDy,
          legendDx: col.legendDx, legendDy: row.legendDy
        }
      },
      scales: {
        x: {
          type: 'linear',
          min: 0, max: 30,
          afterBuildTicks: s => { s.ticks = xTicks.map(v => ({ value: v })); },
          afterFit: s => { s.height = row.xAxisH; },
          border: { display: true, color: '#808080', width: 1.5 },
          grid: { drawOnChartArea: false, drawTicks: true, tickLength: 3, color: '#808080' },
          ticks: { display: isBottom, color: '#595959', font: { size: 12 }, padding: 3, maxRotation: 0 },
          title: {
            display: isBottom, text: 'Time (ns)', color: '#262626',
            font: { family: '"Liberation Serif", serif', size: 12.5, weight: 'bold' },
            padding: { top: 0, bottom: 0 }
          }
        },
        y: {
          min: 0, max: 6,
          afterBuildTicks: s => { s.ticks = yTicks.map(v => ({ value: v })); },
          afterFit: s => { s.width = col.yAxisW; },
          border: { display: true, color: '#404040', width: 1 },
          grid: { drawOnChartArea: false, drawTicks: true, tickLength: 4, color: '#404040' },
          ticks: { display: isLeft, color: '#595959', font: { size: 12 }, padding: 6 }
        }
      }
    },
    plugins: [panelDeco]
  });
}

for (let i = 0; i < 6; i++) makePanel(i);
</script>
</body>
</html>
